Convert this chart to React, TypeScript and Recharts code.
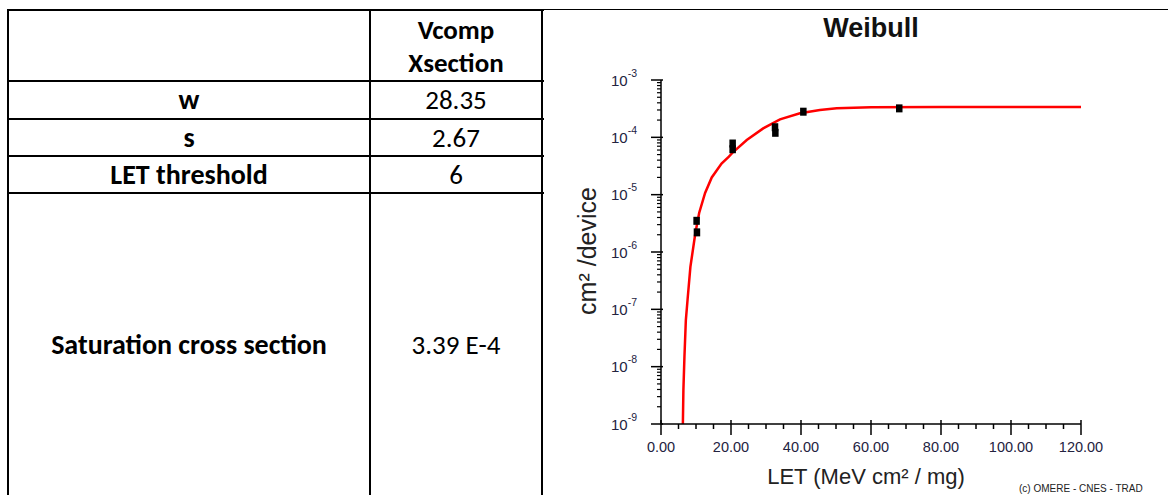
import React from 'react';
import { ComposedChart, Line, Scatter, XAxis, YAxis } from 'recharts';

// Weibull fit curve (LET, cross section)
const curveLET = [6.25, 6.4, 6.7, 7.1, 7.6, 8.4, 9.8, 10.9, 12.6, 14.5, 17.3, 19.4, 20.7, 24.5, 29.2, 34, 39.7, 45.4, 50.2, 60, 80, 120];
const curveXS = [1.0e-9, 3.9e-9, 1.5e-8, 6.5e-8, 1.5e-7, 5.5e-7, 2.1e-6, 4.8e-6, 1.07e-5, 2.0e-5, 3.5e-5, 4.6e-5, 5.6e-5, 9.0e-5, 1.43e-4, 2.06e-4, 2.63e-4, 3.0e-4, 3.2e-4, 3.35e-4, 3.39e-4, 3.39e-4];

// Measured points
const pointLET = [10.1, 10.2, 20.4, 20.4, 32.5, 32.6, 40.6, 68.0];
const pointXS = [3.5e-6, 2.2e-6, 7.8e-5, 6.2e-5, 1.5e-4, 1.2e-4, 2.8e-4, 3.2e-4];

// Axis ticks
const xTicks = [0, 5, 10, 15, 20, 25, 30, 35, 40, 45, 50, 55, 60, 65, 70, 75, 80, 85, 90, 95, 100, 105, 110, 115, 120];
const xMajorStep = 20;
const decadeExps = [-9, -8, -7, -6, -5, -4, -3];
const minorMult = [2, 3, 4, 5, 6, 7, 8, 9];

// Table content
const headerLines = ['Vcomp', 'Xsection'];
const rowLabels = ['w', 's', 'LET threshold', 'Saturation cross section'];
const rowValues = ['28.35', '2.67', '6', '3.39 E-4'];

const curve = curveLET.map((x, i) => ({ x, y: curveXS[i] }));
const points = pointLET.map((x, i) => ({ x, y: pointXS[i] }));
const yTicks: number[] = [];
decadeExps.forEach((e) => {
  yTicks.push(Math.pow(10, e));
  if (e < decadeExps[decadeExps.length - 1]) minorMult.forEach((m) => yTicks.push(m * Math.pow(10, e)));
});

const AX_FONT = '"Liberation Sans", Arial, sans-serif';
const TICK_COLOR = '#23233f';

const XTick = (props: any) => {
  const { x, y, payload } = props;
  const v = payload.value as number;
  const major = v % xMajorStep === 0;
  return (
    <g>
      {major ? (
        <line x1={x} x2={x} y1={y - 4} y2={y + 11} stroke="#000" strokeWidth={1.5} />
      ) : (
        <line x1={x} x2={x} y1={y} y2={y + 5} stroke="#000" strokeWidth={1.5} />
      )}
      {major && (
        <text x={x} y={y + 28} textAnchor="middle" fontSize={14.5} fontFamily={AX_FONT} fill={TICK_COLOR}>
          {v.toFixed(2)}
        </text>
      )}
    </g>
  );
};

const YTick = (props: any) => {
  const { x, y, payload } = props;
  const v = payload.value as number;
  const lg = Math.log10(v);
  const exp = Math.round(lg);
  const major = Math.abs(lg - exp) < 1e-6;
  return (
    <g>
      {major ? (
        <line x1={x - 10} x2={x + 2} y1={y} y2={y} stroke="#000" strokeWidth={1.5} />
      ) : (
        <line x1={x - 4} x2={x} y1={y} y2={y} stroke="#000" strokeWidth={1.2} />
      )}
      {major && (
        <text x={x - 24} y={y + 5.5} textAnchor="end" fontSize={15} fontFamily={AX_FONT} fill={TICK_COLOR}>
          <tspan>10</tspan>
          <tspan dy={-9} fontSize={10.5}>{String(exp)}</tspan>
        </text>
      )}
    </g>
  );
};

const Square = (props: any) => {
  const { cx, cy } = props;
  return <rect x={cx - 3} y={cy - 4} width={6.5} height={8} fill="#000" />;
};

const TABLE_FONT = 'Carlito, Calibri, Lato, "Open Sans", sans-serif';
const B = 2; // border width

const hLine = (top: number, left: number, width: number, h = B) => (
  <div style={{ position: 'absolute', top, left, width, height: h, background: '#000' }} />
);
const vLine = (left: number, top: number, height: number) => (
  <div style={{ position: 'absolute', top, left, width: B, height, background: '#000' }} />
);

const cell = (left: number, top: number, width: number, height: number, content: React.ReactNode, bold: boolean, size: number, key: string) => (
  <div
    key={key}
    style={{
      position: 'absolute',
      left,
      top,
      width,
      height,
      display: 'flex',
      alignItems: 'center',
      justifyContent: 'center',
      flexDirection: 'column',
      fontFamily: TABLE_FONT,
      fontWeight: bold ? 700 : 400,
      fontSize: size,
      lineHeight: '33px',
      color: '#000',
      textAlign: 'center',
      whiteSpace: 'nowrap',
    }}
  >
    {content}
  </div>
);

export default function App() {
  const rowTops = [81, 119, 156, 193];
  const rowBottoms = [118, 156, 193, 496];
  return (
    <div style={{ position: 'absolute', left: 0, top: 0, width: 1168, height: 495, overflow: 'hidden', background: '#fff' }}>
      {/* table grid */}
      {hLine(9, 7, 537)}
      {hLine(9, 542, 626, 1)}
      {hLine(80, 7, 537)}
      {hLine(118, 7, 537)}
      {hLine(155, 7, 537)}
      {hLine(192, 7, 537)}
      {vLine(7, 9, 490)}
      {vLine(369, 9, 490)}
      {vLine(541, 9, 490)}

      {cell(371, 11, 170, 70, headerLines.map((t) => <div key={t}>{t}</div>), true, 27, 'hdr')}
      {rowLabels.map((t, i) => cell(9, rowTops[i], 360, rowBottoms[i] - rowTops[i], t, true, 28, 'l' + i))}
      {rowValues.map((t, i) => cell(371, rowTops[i], 170, rowBottoms[i] - rowTops[i], t, false, 27, 'v' + i))}

      {/* chart */}
      <div style={{ position: 'absolute', left: 542, top: 0, width: 626, height: 495 }}>
        <ComposedChart width={626} height={495} margin={{ top: 80, right: 87, bottom: 0, left: 0 }}>
          <XAxis
            dataKey="x"
            type="number"
            domain={[0, 120]}
            ticks={xTicks}
            interval={0}
            tick={<XTick />}
            tickLine={false}
            tickSize={0}
            tickMargin={0}
            height={71}
            axisLine={{ stroke: '#000', strokeWidth: 1.5 }}
            allowDataOverflow
          />
          <YAxis
            type="number"
            scale="log"
            domain={[1e-9, 1e-3]}
            ticks={yTicks}
            interval={0}
            tick={<YTick />}
            tickLine={false}
            tickSize={0}
            tickMargin={0}
            width={119}
            axisLine={{ stroke: '#000', strokeWidth: 1.5 }}
            allowDataOverflow
          />
          <Scatter data={points} dataKey="y" shape={<Square />} isAnimationActive={false} />
          <Line data={curve} dataKey="y" type="linear" stroke="#ff0000" strokeWidth={2.5} dot={false} isAnimationActive={false} />
        </ComposedChart>
      </div>

      {/* chart texts */}
      <svg width={1168} height={495} style={{ position: 'absolute', left: 0, top: 0, pointerEvents: 'none' }}>
        <text x={871} y={37} textAnchor="middle" fontSize={27} fontWeight={700} fontFamily={AX_FONT} fill="#111">Weibull</text>
        <text x={866} y={484} textAnchor="middle" fontSize={22} fontFamily={AX_FONT} fill="#222">LET (MeV cm² / mg)</text>
        <text transform="translate(596,251) rotate(-90)" textAnchor="middle" fontSize={25} fontFamily={AX_FONT} fill="#222">cm² /device</text>
        <text x={1019} y={492} fontSize={10} fontFamily={AX_FONT} fill="#222">(c) OMERE - CNES - TRAD</text>
      </svg>
    </div>
  );
}
